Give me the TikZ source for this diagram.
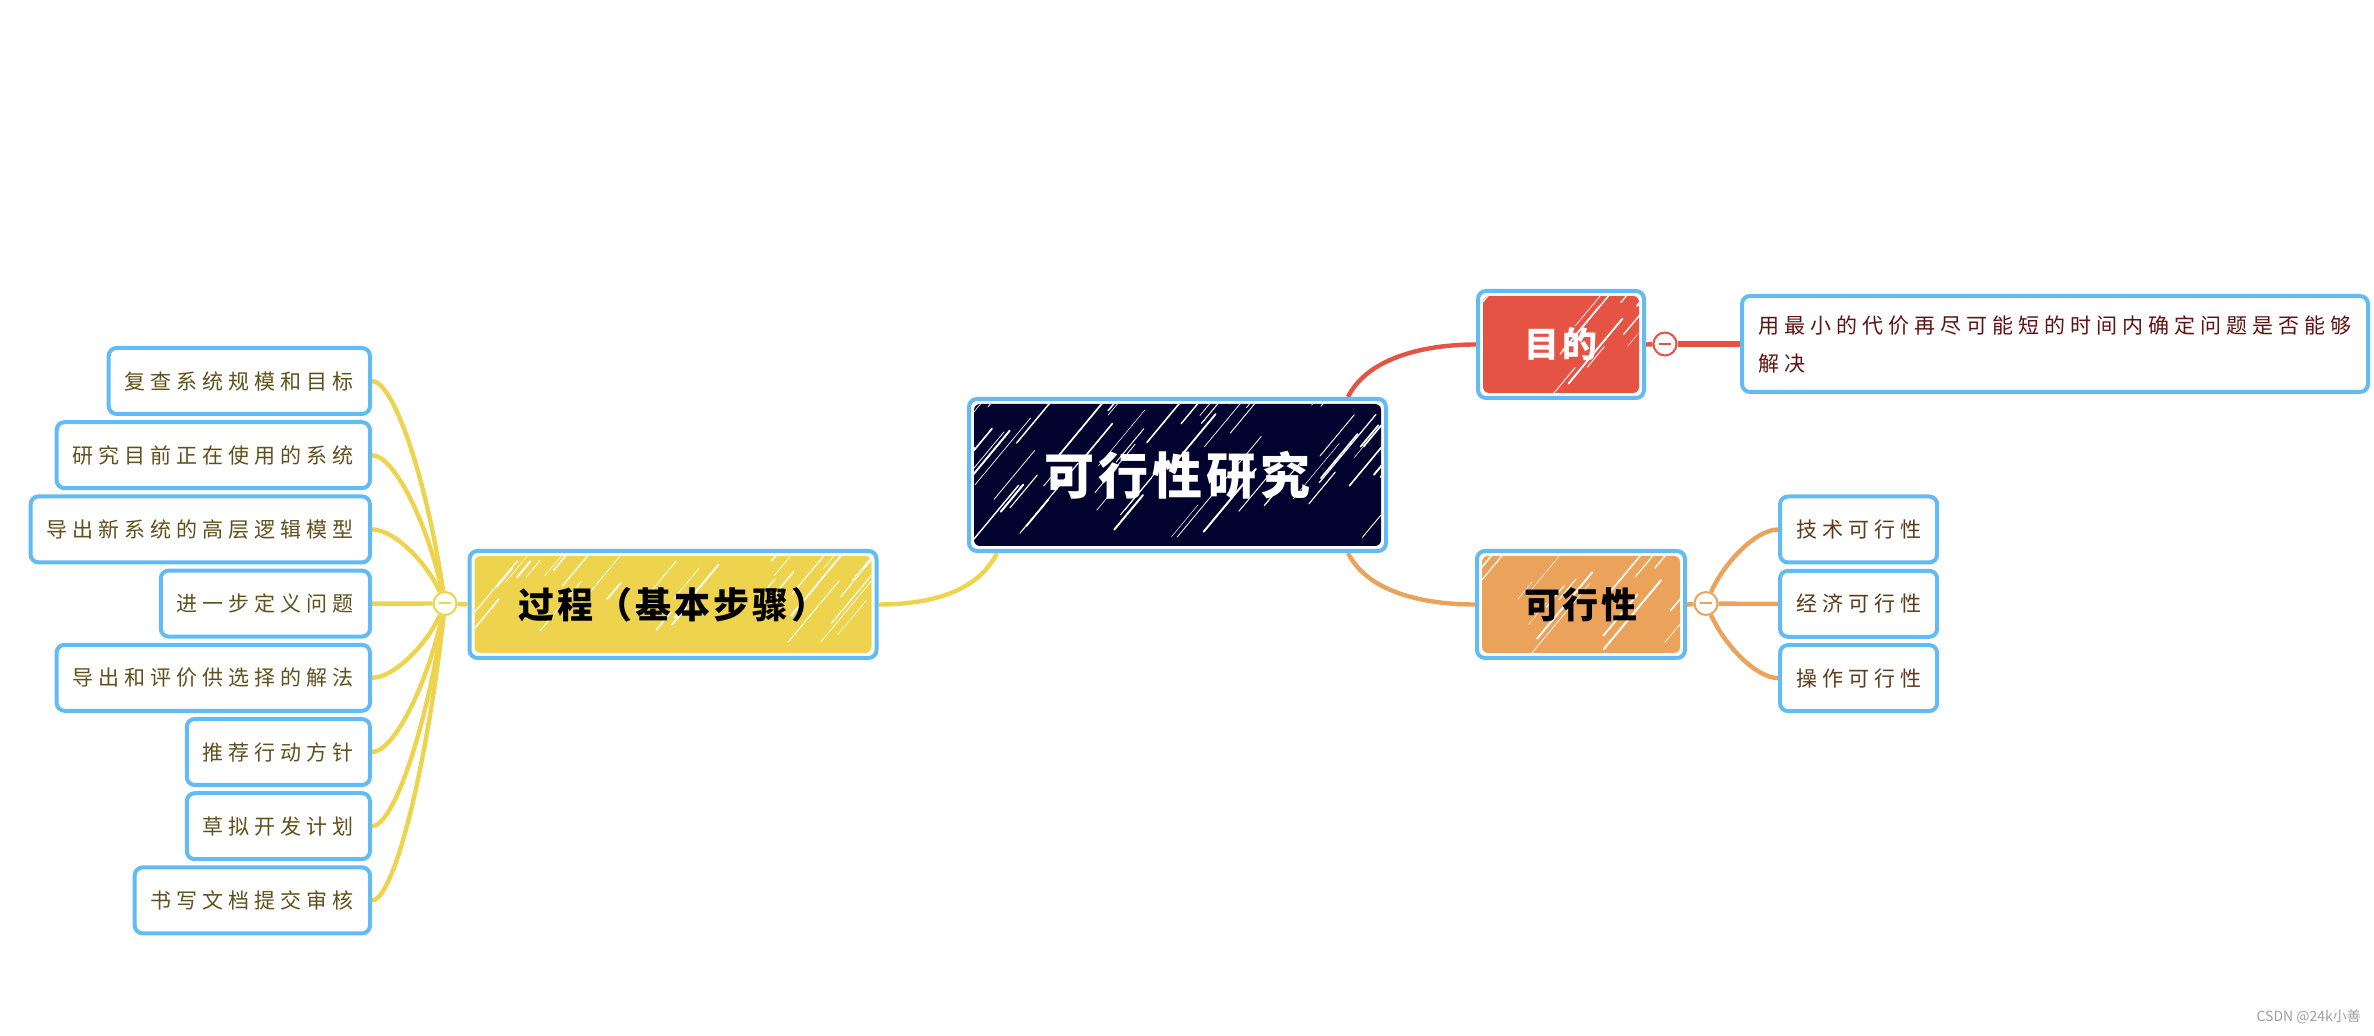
\documentclass[tikz,border=0pt]{standalone}
\usepackage{fontspec}
\setmainfont{Noto Sans CJK SC}
\newfontfamily\cjk{Noto Sans CJK SC}
\newfontfamily\cjkwide[LetterSpace=24]{Noto Sans CJK SC}
\newfontfamily\cjkhead[LetterSpace=8]{Noto Sans CJK SC}
\usetikzlibrary{calc,backgrounds}

\definecolor{rimblue}{RGB}{99,187,245}
\definecolor{rootnavy}{RGB}{2,2,46}
\definecolor{aimred}{RGB}{229,83,69}
\definecolor{feasorange}{RGB}{235,163,92}
\definecolor{procyellow}{RGB}{238,212,78}
\definecolor{olivetext}{RGB}{96,80,28}
\definecolor{browntext}{RGB}{92,58,26}
\definecolor{redtext}{RGB}{96,18,18}

% colour fill inset in the box, with white scribble strokes
\newcommand\scribblefill[2]{%
  \begin{scope}
    \clip[rounded corners=3pt] ($(path picture bounding box.south west)+(2.5pt,2.5pt)$)
      rectangle ($(path picture bounding box.north east)+(-2.5pt,-2.5pt)$);
    \fill[#1] (path picture bounding box.south west) rectangle (path picture bounding box.north east);
    \foreach \k in {1,...,#2}{
      \path[draw=white, line cap=round, line width={0.2pt+0.8pt*rnd}]
        let \p1=(path picture bounding box.south west),
            \p2=(path picture bounding box.north east),
            \n1={rnd}, \n2={rnd}, \n3={8pt+40pt*rnd} in
        ({\x1+(\x2-\x1+40pt)*\n1-40pt},{\y1+(\y2-\y1)*\n2}) -- ++({0.64*\n3*1pt},{0.77*\n3*1pt});
    }
  \end{scope}}

\newcommand\hatchcount{30}
\tikzset{
  rim/.style={draw=rimblue, line width=2pt, rounded corners=4pt},
  hatches/.store in=\hatchcount,
  mainbox/.style={rim, fill=white, inner sep=0pt, path picture={\scribblefill{#1}{\hatchcount}}},
  leafbox/.style={rim, fill=white, minimum height=33pt, inner xsep=8pt, inner ysep=0pt,
    font=\cjkwide\fontsize{10.5}{12}\selectfont},
  collapse/.style={circle, draw=#1, fill=white, line width=1pt, minimum size=11.5pt, inner sep=0pt,
    path picture={\draw[#1, line width=1pt] ([xshift=-3.2pt]path picture bounding box.center)
      -- ([xshift=3.2pt]path picture bounding box.center);}},
  aimline/.style={aimred, line width=2.2pt},
  feasline/.style={feasorange, line width=2.2pt},
  procline/.style={procyellow, line width=2.2pt}
}

\begin{document}
\begin{tikzpicture}[x=0.5pt,y=-0.5pt]
  \pgfmathsetseed{2374}
  \useasboundingbox (0,0) rectangle (2374,1036);

  % central topic and main branches
  \node[mainbox=rootnavy, hatches=65, minimum width=208.5pt, minimum height=76pt, text=white,
    font=\cjkhead\bfseries\fontsize{25}{30}\selectfont] (root) at (1177.5,475) {可行性研究};
  \node[mainbox=aimred, hatches=14, minimum width=83pt, minimum height=53.5pt, text=white,
    font=\cjkhead\bfseries\fontsize{17.5}{22}\selectfont] (aim) at (1561,344.5) {目的};
  \node[mainbox=feasorange, hatches=20, minimum width=104pt, minimum height=53.5pt, text=black,
    font=\cjkhead\bfseries\fontsize{18}{22}\selectfont] (feas) at (1581,604.5) {可行性};
  \node[mainbox=procyellow, hatches=40, minimum width=203.5pt, minimum height=53.5pt, text=black,
    font=\cjkhead\bfseries\fontsize{18}{22}\selectfont] (proc) at (673,604.5) {过程（基本步骤）};

  \node[collapse=aimred] (aimdot) at (1665,344) {};
  \node[collapse=feasorange] (feasdot) at (1706,603.5) {};
  \node[collapse=procyellow] (procdot) at (445,603.5) {};

  % leaves
  \node[leafbox, text=redtext, anchor=west, minimum width=313pt, minimum height=48pt, align=left,
    font=\cjkwide\fontsize{10.5}{19}\selectfont] (desc) at (1740,344)
    {用最小的代价再尽可能短的时间内确定问题是否能够\\解决};

  \foreach \txt [count=\i] in {复查系统规模和目标, 研究目前正在使用的系统, 导出新系统的高层逻辑模型,
      进一步定义问题, 导出和评价供选择的解法, 推荐行动方针, 草拟开发计划, 书写文档提交审核}
    \node[leafbox, text=olivetext, anchor=east] (stage\i) at (372,{381+74.2*(\i-1)}) {\txt};

  \foreach \txt [count=\i] in {技术可行性, 经济可行性, 操作可行性}
    \node[leafbox, text=browntext, anchor=west] (kind\i) at (1778,{529.5+74.3*(\i-1)}) {\txt};

  \node[font=\cjk\fontsize{7}{8}\selectfont, text=gray!75, anchor=east] (mark) at (2368,1017) {CSDN @24k小善};

  % connectors
  \begin{scope}[on background layer]
    \draw[aimline] ([xshift=-20pt]root.north east) .. controls +(20,-40) and +(-50,0) .. (aim.west);
    \draw[feasline] ([xshift=-20pt]root.south east) .. controls +(20,40) and +(-50,0) .. (feas.west);
    \draw[procline] ([xshift=15pt]root.south west) .. controls +(-20,40) and +(50,0) .. (proc.east);
    \draw[aimline] (aim.east) -- (aimdot);
    \draw[aimred, line width=3pt] (aimdot) -- (desc.west);
    \draw[feasline] (feas.east) -- (feasdot);
    \draw[procline] (proc.west) -- (procdot);
    \foreach \i in {1,...,8}
      \draw[procline] (procdot) .. controls +(-18,{0.55*(74.2*(\i-1)-222.5)}) and +(22,0) .. (stage\i.east);
    \foreach \i in {1,2,3}
      \draw[feasline] (feasdot) .. controls +(18,{0.55*(74.3*(\i-1)-74)}) and +(-22,0) .. (kind\i.west);
  \end{scope}
\end{tikzpicture}
\end{document}
